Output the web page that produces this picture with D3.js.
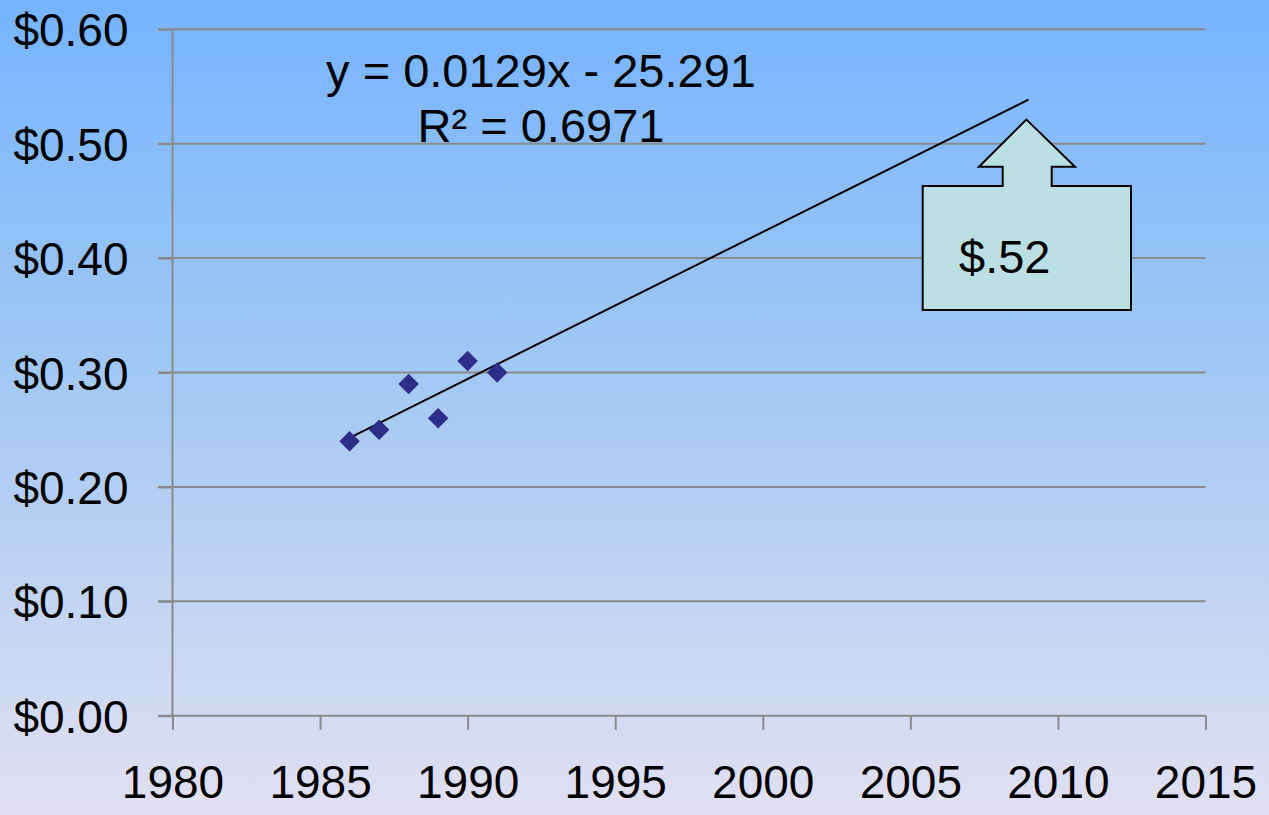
<!DOCTYPE html>
<html>
<head>
<meta charset="utf-8">
<script src="https://cdn.jsdelivr.net/npm/d3@7"></script>
<style>
html,body{margin:0;padding:0;}
svg{display:block;}
text{font-family:"Liberation Sans",Arial,sans-serif;}
</style>
</head>
<body>
<svg id="chart" width="1269" height="815"></svg>
<script>
const years = [1986, 1987, 1988, 1989, 1990, 1991];
const prices = [0.24, 0.25, 0.29, 0.26, 0.31, 0.30];
const xTicks = [1980, 1985, 1990, 1995, 2000, 2005, 2010, 2015];
const yTicks = [0, 0.1, 0.2, 0.3, 0.4, 0.5, 0.6];
const trendEndYear = 2009;
const equationLines = ["y = 0.0129x - 25.291", "R\u00B2 = 0.6971"];
const calloutLabel = "$.52";

const W = 1269, H = 815;
const svg = d3.select("#chart");

const defs = svg.append("defs");
const grad = defs.append("linearGradient").attr("id","bg").attr("x1",0).attr("y1",0).attr("x2",0).attr("y2",1);
grad.append("stop").attr("offset","0%").attr("stop-color","#75B4FF");
grad.append("stop").attr("offset","50%").attr("stop-color","#A6CAF3");
grad.append("stop").attr("offset","100%").attr("stop-color","#E2E0F3");
svg.append("rect").attr("width",W).attr("height",H).attr("fill","url(#bg)");

const x = d3.scaleLinear().domain([1980, 2015]).range([172.5, 1205.5]);
const y = d3.scaleLinear().domain([0, 0.6]).range([715.7, 29.3]);

// gridlines
svg.append("g").selectAll("line").data(yTicks.slice(1)).join("line")
  .attr("x1", 158).attr("x2", x(2015))
  .attr("y1", d => y(d)).attr("y2", d => y(d))
  .attr("stroke", "#8a8a8a").attr("stroke-width", 2);

// y axis
const yAxis = svg.append("g").attr("transform", `translate(${x(1980)},0)`)
  .call(d3.axisLeft(y).tickValues(yTicks).tickFormat(d => "$" + d3.format(".2f")(d)).tickSize(14).tickPadding(30));
yAxis.select(".domain").attr("stroke","#8a8a8a").attr("stroke-width",2).attr("d", `M0,${y(0)}V${y(0.6)}`);
yAxis.selectAll(".tick line").attr("stroke","#8a8a8a").attr("stroke-width",2);
yAxis.selectAll(".tick text").attr("font-size",46).attr("fill","#000").attr("font-family","Liberation Sans, Arial, sans-serif").attr("dy","0.36em");

// x axis
const xAxis = svg.append("g").attr("transform", `translate(0,${y(0)})`)
  .call(d3.axisBottom(x).tickValues(xTicks).tickFormat(d3.format("d")).tickSize(14).tickPadding(36));
xAxis.select(".domain").attr("stroke","#8a8a8a").attr("stroke-width",2).attr("d", `M158,0H${x(2015)}`);
xAxis.selectAll(".tick line").attr("stroke","#8a8a8a").attr("stroke-width",2);
xAxis.selectAll(".tick text").attr("font-size",46).attr("fill","#000").attr("font-family","Liberation Sans, Arial, sans-serif").attr("dy","0.71em");

// regression
const mx = d3.mean(years), my = d3.mean(prices);
const sxy = d3.sum(years, (d,i) => (d-mx)*(prices[i]-my));
const sxx = d3.sum(years, d => (d-mx)*(d-mx));
const slope = sxy/sxx, icpt = my - slope*mx;
const trend = [years[0], trendEndYear].map(t => [t, slope*t + icpt]);
svg.append("path").datum(trend)
  .attr("d", d3.line().x(d => x(d[0])).y(d => y(d[1])))
  .attr("stroke","#000").attr("stroke-width",2).attr("fill","none");

// points
svg.append("g").selectAll("path").data(years).join("path")
  .attr("d", d3.symbol().type(d3.symbolSquare).size(210))
  .attr("transform", (d,i) => `translate(${x(d)},${y(prices[i])}) rotate(45)`)
  .attr("fill","#2E2D89");

// equation
const eq = svg.append("text").attr("text-anchor","middle").attr("font-size",47).attr("fill","#000");
eq.append("tspan").attr("x",541).attr("y",87).text(equationLines[0]);
eq.append("tspan").attr("x",541).attr("y",142).text(equationLines[1]);

// callout arrow
const tipX = x(trendEndYear) - 2, tipY = y(0.5386) + 20;
const box = {l: 922.7, r: 1131, t: 186, b: 310};
const stemL = 1002.7, stemR = 1051.7, headY = 166.7, headL = 979, headR = 1075;
const pts = [[box.l,box.t],[stemL,box.t],[stemL,headY],[headL,headY],[tipX,tipY],[headR,headY],[stemR,headY],[stemR,box.t],[box.r,box.t],[box.r,box.b],[box.l,box.b]];
svg.append("path").attr("d", d3.line()(pts) + "Z")
  .attr("fill","#BBE0E3").attr("stroke","#000").attr("stroke-width",2);
svg.append("text").attr("x",959).attr("y",273).attr("font-size",47).attr("fill","#000").text(calloutLabel);
</script>
</body>
</html>
